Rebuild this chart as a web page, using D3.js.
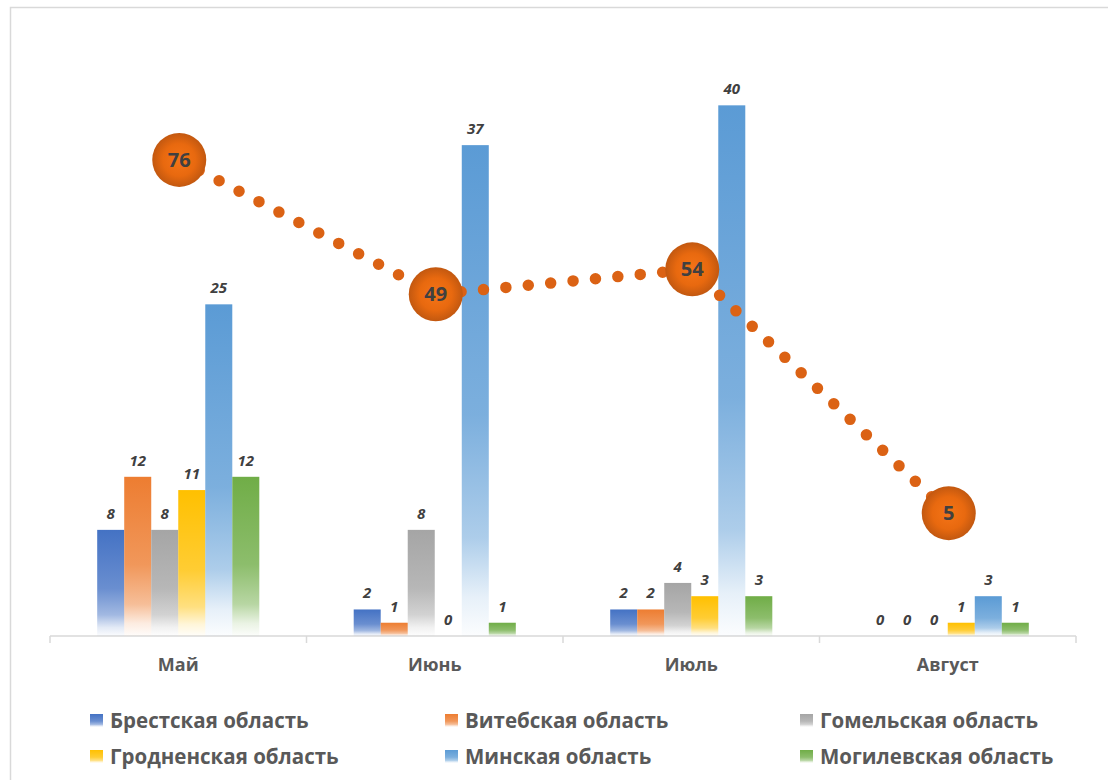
<!DOCTYPE html>
<html>
<head>
<meta charset="utf-8">
<title>Области по месяцам</title>
<script src="https://cdn.jsdelivr.net/npm/d3@7/dist/d3.min.js"></script>
<style>
  body { margin: 0; background: #fff; }
  text { font-family: "Open Sans", "Noto Sans", sans-serif; }
</style>
</head>
<body>
<svg id="chart" width="1108" height="780"></svg>
<script>
// data
const months = ["Май", "Июнь", "Июль", "Август"];
const regions = ["Брестская область", "Витебская область", "Гомельская область",
                 "Гродненская область", "Минская область", "Могилевская область"];
const brest   = [8, 2, 2, 0];
const vitebsk = [12, 1, 2, 0];
const gomel   = [8, 8, 4, 0];
const grodno  = [11, 0, 3, 1];
const minsk   = [25, 37, 40, 3];
const mogilev = [12, 1, 3, 1];
const totals  = [76, 49, 54, 5];

const colors = ["#4472C4", "#ED7D31", "#A5A5A5", "#FFC000", "#5B9BD5", "#70AD47"];
const series = [brest, vitebsk, gomel, grodno, minsk, mogilev];

const svg = d3.select("#chart");
const defs = svg.append("defs");

// chart frame
svg.append("rect")
  .attr("x", 10.5).attr("y", 7.5)
  .attr("width", 1120).attr("height", 800)
  .attr("fill", "#fff").attr("stroke", "#d9d9d9").attr("stroke-width", 1.5);

// gradients for the bars (solid on top, fading out at the bottom)
colors.forEach((c, i) => {
  const g = defs.append("linearGradient")
    .attr("id", "grad" + i)
    .attr("x1", 0).attr("y1", 0).attr("x2", 0).attr("y2", 1);
  [[0, 1], [0.55, 0.8], [0.8, 0.5], [0.92, 0.15], [1, 0.02]].forEach(s => {
    g.append("stop").attr("offset", s[0]).attr("stop-color", c).attr("stop-opacity", s[1]);
  });
});

const rg = defs.append("radialGradient").attr("id", "dotGrad")
  .attr("cx", "50%").attr("cy", "50%").attr("r", "50%");
rg.append("stop").attr("offset", 0).attr("stop-color", "#F57417");
rg.append("stop").attr("offset", 0.6).attr("stop-color", "#E8690F");
rg.append("stop").attr("offset", 1).attr("stop-color", "#C25810");

const plotL = 50, plotR = 1076, plotT = 39, base = 636;

const x0 = d3.scaleBand().domain(months).range([plotL, plotR]).padding(0);
const groupW = x0.bandwidth() * 0.632;
const x1 = d3.scaleBand().domain(d3.range(regions.length)).range([0, groupW]).padding(0);
const y = d3.scaleLinear().domain([0, 45]).range([base, plotT]);
const y2 = d3.scaleLinear().domain([-20, 100]).range([base + 1.5, plotT + 1.5]);

// axis
const axis = svg.append("g").attr("transform", `translate(0,${base})`)
  .call(d3.axisBottom(x0).tickSize(0).tickPadding(22));
axis.select(".domain").attr("stroke", "#d9d9d9").attr("stroke-width", 1.5)
  .attr("d", `M${plotL},0H${plotR}`);
axis.selectAll(".tick text")
  .attr("font-size", 18).attr("font-weight", "bold").attr("fill", "#595959")
  .attr("font-family", "'Open Sans', 'Noto Sans', sans-serif");
const bounds = months.map(m => x0(m)).concat([plotR]);
axis.selectAll(".sep").data(bounds).join("line")
  .attr("x1", d => d).attr("x2", d => d).attr("y1", 0).attr("y2", 7)
  .attr("stroke", "#d9d9d9").attr("stroke-width", 1.5);

// bars
const groups = svg.append("g").selectAll("g").data(months).join("g")
  .attr("transform", m => `translate(${x0(m) + (x0.bandwidth() - groupW) / 2},0)`);

groups.selectAll("rect")
  .data((m, mi) => series.map((s, si) => ({ si, v: s[mi] })))
  .join("rect")
  .attr("x", d => x1(d.si))
  .attr("width", x1.bandwidth())
  .attr("y", d => y(d.v))
  .attr("height", d => base - y(d.v))
  .attr("fill", d => `url(#grad${d.si})`);

groups.selectAll("text")
  .data((m, mi) => series.map((s, si) => ({ si, v: s[mi] })))
  .join("text")
  .attr("x", d => x1(d.si) + x1.bandwidth() / 2)
  .attr("y", d => y(d.v) - 11)
  .attr("text-anchor", "middle")
  .attr("font-size", 15).attr("font-weight", "bold").attr("font-style", "italic")
  .attr("fill", "#404040")
  .text(d => d.v);

// dotted total line
const cx = m => x0(m) + x0.bandwidth() / 2 + 1;
const line = d3.line().x((d, i) => cx(months[i])).y(d => y2(d));
svg.append("path")
  .datum(totals)
  .attr("d", line)
  .attr("fill", "none")
  .attr("stroke", "#DB6214")
  .attr("stroke-width", 11.5)
  .attr("stroke-linecap", "round")
  .attr("stroke-dasharray", "0 22.5");

const marks = svg.append("g").selectAll("g").data(totals).join("g")
  .attr("transform", (d, i) => `translate(${cx(months[i])},${y2(d)})`);
marks.append("circle").attr("r", 27).attr("fill", "url(#dotGrad)");
marks.append("text")
  .attr("text-anchor", "middle").attr("dy", "0.35em")
  .attr("font-size", 20).attr("font-weight", "bold").attr("fill", "#404040")
  .text(d => d);

// legend
const legendX = [90, 445, 800];
const legendY = [721, 757];
const leg = svg.append("g").selectAll("g").data(regions).join("g")
  .attr("transform", (d, i) => `translate(${legendX[i % 3]},${legendY[Math.floor(i / 3)]})`);
leg.append("rect")
  .attr("x", 0).attr("y", -7).attr("width", 13).attr("height", 13)
  .attr("fill", (d, i) => `url(#grad${i})`);
leg.append("text")
  .attr("x", 20).attr("y", 0).attr("dy", "0.36em")
  .attr("font-size", 20.5).attr("font-weight", "bold").attr("fill", "#595959")
  .text(d => d);
</script>
</body>
</html>
